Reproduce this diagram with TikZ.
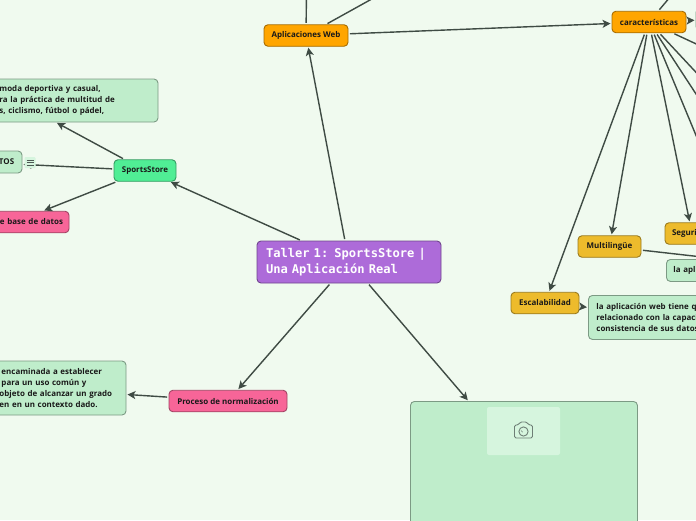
\documentclass[tikz,border=0pt]{standalone}
\usepackage{fontspec}
\setmainfont{Open Sans}
\newfontfamily\titlefont{DejaVu Sans Mono}
\usetikzlibrary{arrows.meta}
\definecolor{bgc}{HTML}{F0FAEF}
\definecolor{linec}{HTML}{3F4B44}
\definecolor{orangec}{HTML}{FFA500}
\definecolor{yellowc}{HTML}{EDBB2C}
\definecolor{pinkc}{HTML}{F76598}
\definecolor{greenc}{HTML}{50EE95}
\definecolor{paleg}{HTML}{BFEDCB}
\definecolor{paler}{HTML}{D6F5DE}
\definecolor{purplec}{HTML}{AD6BD9}
\definecolor{iconc}{HTML}{6E7E76}
\tikzset{
  box/.style={rounded corners=4pt,draw=#1!65!black,line width=0.9pt,inner sep=0pt,
    font=\fontsize{7.95}{10.9}\selectfont\bfseries,text=black!90},
  topic/.style={box=#1,fill=#1,minimum height=21.5pt},
  note/.style={box=paleg,fill=paleg,align=left},
  conn/.style={draw=linec,line width=1.4pt},
  arr/.style={conn,-{Stealth[length=8pt,width=8pt,inset=2pt]},shorten >=1pt,shorten <=1.5pt},
  plain/.style={conn,shorten <=1.5pt},
}
\begin{document}
\begin{tikzpicture}[x=1pt,y=-1pt]
\useasboundingbox (0,0) rectangle (696,520);
\clip (0,0) rectangle (696,520);
\fill[bgc] (0,0) rectangle (696,520);

% nodes
\node[box=purplec,fill=purplec,minimum width=184pt,minimum height=42pt,text width=166pt,align=left,
      font=\fontsize{12.1}{16}\selectfont\titlefont\bfseries,text=white] (main) at (349,262)
      {Taller 1: SportsStore |\\Una Aplicación Real};
\node[topic=orangec,minimum width=84pt] (web) at (306,35.5) {Aplicaciones Web};
\node[topic=orangec,minimum width=74pt] (car) at (649,22) {características};
\node[topic=greenc,minimum width=62pt] (sports) at (145,170.5) {SportsStore};
\node[topic=pinkc,minimum width=118pt] (proc) at (228,401) {Proceso de normalización};
\node[topic=pinkc,minimum width=108pt,text width=106pt,align=left] (bd) at (15,222) {\leftskip=38pt e base de datos\par};
\node[topic=yellowc,minimum width=68pt] (esc) at (545,303) {Escalabilidad};
\node[topic=yellowc,minimum width=63pt] (mul) at (609.5,246.5) {Multilingüe};
\node[topic=yellowc,minimum width=54pt,text width=40pt,align=left] (seg) at (692,233.5) {Seguri};
\node[note,minimum width=285pt,minimum height=43pt,text width=270pt] (nsports) at (15.5,100.5)
  {\leftskip=119pt moda deportiva y casual,\\ra la práctica de multitud de\\s, ciclismo, fútbol o pádel,\par};
\node[note,minimum width=94pt,minimum height=22pt,text width=80pt] (ntos) at (-25,162) {\leftskip=64pt TOS\par};
\node[note,minimum width=200pt,minimum height=54pt,text width=190pt] (nproc) at (26,388)
  {\leftskip=68.5pt \hspace*{2pt}encaminada a establecer\\\hspace*{2pt}para un uso común y\\objeto de alcanzar un grado\\en en un contexto dado.\par};
\node[note,minimum width=200pt,minimum height=44pt,text width=184pt,anchor=north west] (nesc) at (588,295)
  {la aplicación web tiene q\\relacionado con la capaci\\consistencia de sus datos};
\node[note,minimum width=60pt,minimum height=22pt,text width=46pt,anchor=north west] (nseg) at (666,259) {la apl};
\node[note,minimum width=40pt,minimum height=22pt,anchor=north west] (ncar) at (695.5,8) {};
\node[box=paleg,fill=paleg,minimum width=227pt,minimum height=130pt,anchor=north west] (img) at (410,401) {};
\node[fill=paler,rounded corners=2pt,minimum width=73pt,minimum height=48pt,inner sep=0pt] (thumb) at (523.5,431) {};

% free ends of the connectors that leave the picture
\coordinate (w1) at (306.5,-10);
\coordinate (w2) at (388,-10);
\coordinate (c0) at (676,-10);
\coordinate (c1) at (700,145);
\coordinate (c2) at (713,120);
\coordinate (c3) at (720,98);
\coordinate (c4) at (720,55);
\coordinate (m1) at (720,259);

% connectors
\path[arr] (main) -- (web);
\path[arr] (main) -- (sports);
\path[arr] (main) -- (proc);
\path[arr] ([xshift=19pt]main.south) -- ([xshift=-55.5pt]img.north);
\path[arr] (web) -- (car);
\path[plain] (web) -- (w1);
\path[plain] (web) -- (w2);
\path[plain] (car) -- (c0);
\path[plain] (car) -- (c1);
\path[plain] (car) -- (c2);
\path[plain] (car) -- (c3);
\path[plain] (car) -- (c4);
\path[arr] (car) -- (ncar);
\path[arr] (car) -- (esc);
\path[arr] (car) -- (mul);
\path[arr] (car) -- (seg);
\path[plain] (mul) -- (m1);
\path[arr] (esc) -- (nesc);
\path[arr] (sports) -- (nsports);
\path[arr] (sports) -- (ntos);
\path[arr] (sports) -- (bd);
\path[arr] (proc) -- (nproc);

% note icon beside TOS
\node[fill=paler,rounded corners=1pt,minimum size=11pt,inner sep=0pt] (ticon) at (30,162.5) {};
\draw[iconc!70!black,line width=0.8pt]
  (26.5,160) -- (33.5,160) (26.5,162.5) -- (33.5,162.5) (26.5,165) -- (33.5,165);

% camera icon
\begin{scope}[shift={(thumb.center)},draw=iconc,line width=0.9pt]
  \draw[rounded corners=1.5pt] (-9,-6) -- (-5,-6) -- (-3.5,-9) -- (3.5,-9) -- (5,-6) -- (9,-6) -- (9,7) -- (-9,7) -- cycle;
  \draw (0,0.5) circle (4.6);
  \draw[line width=0.7pt] (-2.4,-0.4) arc[start angle=160,end angle=110,radius=2.6];
\end{scope}
\end{tikzpicture}
\end{document}
